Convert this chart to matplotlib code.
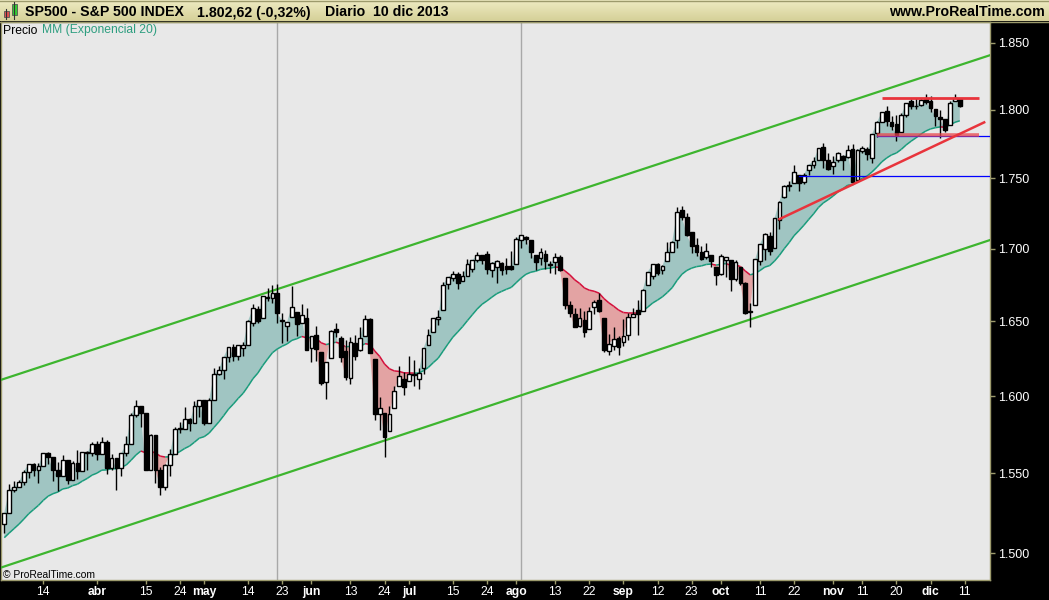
import numpy as np
import pandas as pd
import matplotlib
matplotlib.use("Agg")
import matplotlib.pyplot as plt
from matplotlib.collections import LineCollection
from matplotlib.patches import Rectangle

plt.rcParams['font.family'] = ['Liberation Sans', 'DejaVu Sans']

W, H = 1049, 600

# ---------------- data ----------------
holidays = ['2013-02-18', '2013-03-29', '2013-05-27', '2013-07-04', '2013-09-02', '2013-11-28', '2013-12-25']
start_date = '2013-03-04'

opens = [
    1518.20, 1525.20, 1539.79, 1541.46, 1544.26, 1551.15, 1556.22, 1552.48, 1554.52, 1563.21, 1560.70, 1552.10, 1548.34, 1558.71, 1545.90, 1556.89, 1551.69, 1563.75, 1562.86,
    1569.18, 1562.17, 1570.25, 1553.69, 1559.98, 1553.26, 1563.11, 1568.61, 1587.73, 1593.30, 1588.84, 1552.01, 1574.57, 1552.03, 1541.61, 1555.25, 1562.50, 1578.78, 1578.78, 1585.16, 1582.34, 1593.58,
    1597.55, 1582.77, 1597.60, 1614.40, 1617.55, 1625.95, 1632.69, 1626.69, 1632.10, 1633.75, 1649.13, 1658.07, 1652.45, 1665.71, 1666.20, 1669.39, 1650.34, 1646.67, 1652.63, 1656.57, 1649.14, 1652.13,
    1631.71, 1640.73, 1629.05, 1609.29, 1625.27, 1644.67, 1638.64, 1629.94, 1612.15, 1635.52, 1630.64, 1639.77, 1651.83, 1624.62, 1588.62, 1588.77, 1577.52, 1592.27, 1606.44, 1611.12,
    1609.78, 1614.29, 1611.48, 1618.65, 1634.20, 1642.89, 1651.56, 1657.41, 1675.26, 1679.59, 1682.70, 1677.91, 1681.05, 1686.15, 1692.09, 1695.53, 1696.06, 1685.21, 1687.31, 1690.32, 1687.92, 1687.76,
    1689.42, 1706.10, 1708.01, 1705.79, 1695.30, 1693.35, 1696.10, 1688.37, 1690.65, 1693.88, 1679.61, 1661.22, 1655.25, 1646.81, 1650.66, 1645.03, 1659.92, 1664.29, 1652.54, 1630.25, 1633.50, 1638.89,
    1635.95, 1640.72, 1653.28, 1657.44, 1656.85, 1675.11, 1681.04, 1689.21, 1685.04, 1691.70, 1697.73, 1705.74, 1727.34, 1722.44, 1711.44, 1702.60, 1698.02, 1694.05, 1695.52, 1687.26,
    1682.41, 1691.90, 1692.35, 1678.79, 1687.15, 1676.22, 1656.99, 1660.88, 1691.09, 1699.86, 1709.17, 1700.49, 1720.17, 1736.72, 1745.20, 1746.48, 1752.27, 1747.48, 1756.01, 1759.42, 1762.93, 1772.27, 1763.24,
    1758.70, 1763.40, 1765.67, 1765.00, 1770.74, 1748.37, 1769.96, 1771.08, 1764.37, 1782.75, 1790.66, 1798.82, 1790.79, 1789.59, 1783.52, 1796.19, 1806.33, 1802.87, 1803.48, 1808.01,
    1806.55, 1800.10, 1794.46, 1792.82, 1788.36, 1806.21, 1807.51]

highs = [
    1525.27, 1543.47, 1545.25, 1545.78, 1552.48, 1556.27, 1556.77, 1556.39, 1563.32, 1563.62, 1560.70, 1557.25, 1561.56, 1558.71, 1557.74, 1564.91, 1563.95, 1564.07, 1570.28,
    1570.57, 1573.66, 1571.47, 1562.60, 1559.98, 1563.07, 1573.89, 1589.07, 1597.35, 1593.30, 1588.84, 1575.35, 1574.57, 1554.38, 1555.89, 1565.55, 1579.58, 1583.00, 1592.64, 1585.78, 1596.65, 1597.57,
    1597.55, 1598.60, 1618.46, 1619.77, 1626.03, 1632.78, 1635.01, 1633.70, 1636.00, 1651.10, 1661.49, 1660.51, 1667.47, 1672.84, 1674.93, 1675.20, 1655.35, 1649.78, 1674.21, 1656.57, 1661.91, 1658.99,
    1640.42, 1646.53, 1629.31, 1622.56, 1644.40, 1648.69, 1640.13, 1637.71, 1639.25, 1640.80, 1646.50, 1654.19, 1652.45, 1624.62, 1599.19, 1588.77, 1593.79, 1606.83, 1620.07, 1615.94,
    1626.61, 1624.26, 1618.97, 1632.07, 1644.68, 1652.48, 1657.92, 1676.63, 1680.19, 1684.51, 1683.73, 1684.75, 1693.12, 1692.09, 1697.61, 1695.53, 1698.38, 1690.94, 1691.85, 1690.92, 1693.19, 1698.43,
    1707.85, 1709.67, 1709.24, 1705.79, 1695.30, 1700.18, 1699.42, 1691.49, 1696.81, 1695.52, 1679.61, 1663.60, 1659.18, 1658.92, 1656.99, 1659.55, 1664.85, 1669.51, 1652.54, 1641.18, 1646.41, 1640.08,
    1651.35, 1655.72, 1659.17, 1664.83, 1672.40, 1684.09, 1689.13, 1689.97, 1688.73, 1704.95, 1705.52, 1729.44, 1729.86, 1725.23, 1711.44, 1707.63, 1701.71, 1703.85, 1695.52, 1687.26,
    1696.55, 1693.87, 1692.35, 1691.94, 1687.15, 1676.79, 1662.47, 1692.56, 1703.44, 1711.03, 1711.57, 1721.76, 1733.45, 1745.31, 1747.79, 1759.33, 1752.27, 1753.94, 1759.82, 1764.99, 1772.09, 1775.22, 1768.53,
    1765.67, 1768.78, 1767.03, 1773.74, 1774.54, 1770.78, 1773.44, 1772.28, 1782.00, 1791.53, 1798.22, 1802.33, 1795.51, 1795.73, 1797.16, 1804.84, 1808.10, 1808.42, 1808.27, 1811.50,
    1810.02, 1800.10, 1799.80, 1792.82, 1806.04, 1811.52, 1808.37]

lows = [
    1512.29, 1525.20, 1538.11, 1541.46, 1542.94, 1547.36, 1548.24, 1544.00, 1554.52, 1555.74, 1545.13, 1538.57, 1548.34, 1543.55, 1545.90, 1546.22, 1551.69, 1551.90, 1561.08,
    1558.47, 1562.17, 1549.80, 1552.52, 1539.50, 1548.63, 1560.92, 1568.61, 1586.17, 1579.97, 1552.28, 1552.01, 1543.69, 1536.03, 1539.40, 1548.19, 1562.50, 1575.80, 1578.78, 1577.56, 1582.34, 1586.50,
    1581.28, 1582.77, 1597.60, 1614.21, 1611.10, 1622.70, 1623.09, 1623.71, 1626.74, 1633.75, 1646.68, 1648.60, 1652.45, 1663.52, 1662.67, 1648.86, 1635.53, 1636.88, 1652.63, 1640.05, 1648.61, 1630.74,
    1622.72, 1623.62, 1607.09, 1598.23, 1625.27, 1639.26, 1622.92, 1610.92, 1608.07, 1623.96, 1630.34, 1639.77, 1628.91, 1584.32, 1577.70, 1560.33, 1577.09, 1592.27, 1606.44, 1601.06,
    1609.78, 1606.77, 1604.57, 1614.71, 1634.20, 1642.89, 1647.66, 1657.41, 1672.33, 1677.89, 1671.84, 1677.91, 1681.05, 1684.08, 1690.67, 1689.00, 1682.57, 1680.07, 1676.03, 1681.86, 1682.42, 1684.94,
    1689.42, 1700.68, 1703.55, 1693.29, 1684.91, 1688.38, 1686.02, 1683.35, 1682.62, 1684.83, 1658.59, 1652.61, 1645.84, 1646.08, 1639.43, 1645.03, 1654.81, 1656.02, 1629.05, 1627.47, 1630.88, 1627.47,
    1633.41, 1637.41, 1653.07, 1640.62, 1656.85, 1675.11, 1678.70, 1681.96, 1682.22, 1691.70, 1697.73, 1700.35, 1720.20, 1708.89, 1697.10, 1694.90, 1691.88, 1693.11, 1687.11, 1674.99,
    1682.07, 1680.34, 1670.36, 1677.33, 1674.70, 1655.03, 1646.47, 1660.88, 1688.52, 1692.13, 1695.93, 1700.49, 1714.12, 1735.74, 1740.67, 1746.48, 1740.50, 1745.50, 1752.45, 1757.67, 1762.93, 1757.24, 1755.72,
    1752.70, 1761.56, 1755.76, 1764.40, 1746.20, 1747.63, 1767.85, 1762.98, 1760.64, 1780.22, 1790.66, 1788.00, 1784.72, 1777.23, 1783.52, 1794.70, 1800.58, 1800.77, 1802.77, 1803.98,
    1798.60, 1787.85, 1779.09, 1783.38, 1788.36, 1806.21, 1801.75]

closes = [
    1525.20, 1539.79, 1541.46, 1544.26, 1551.18, 1556.22, 1552.48, 1554.52, 1563.23, 1560.70, 1552.10, 1548.34, 1558.71, 1545.80, 1556.89, 1551.69, 1563.77, 1562.85, 1569.19,
    1562.17, 1570.25, 1553.69, 1559.98, 1553.28, 1563.07, 1568.61, 1587.73, 1593.37, 1588.85, 1552.36, 1574.57, 1552.01, 1541.61, 1555.25, 1562.50, 1578.78, 1578.79, 1585.16, 1582.24, 1593.61, 1597.57,
    1582.70, 1597.59, 1614.42, 1617.50, 1625.96, 1632.69, 1626.67, 1633.70, 1633.77, 1650.34, 1658.78, 1650.47, 1667.47, 1666.29, 1669.16, 1655.35, 1650.51, 1649.60, 1660.06, 1648.36, 1654.41, 1630.74,
    1640.42, 1631.38, 1608.90, 1622.56, 1643.38, 1642.81, 1626.13, 1612.52, 1636.36, 1626.73, 1639.04, 1651.81, 1628.93, 1588.19, 1592.43, 1573.09, 1588.03, 1603.26, 1613.20, 1606.28,
    1614.96, 1614.08, 1615.41, 1631.89, 1640.46, 1652.32, 1652.62, 1675.02, 1680.19, 1682.50, 1676.26, 1680.91, 1689.37, 1692.09, 1695.53, 1692.39, 1685.94, 1690.25, 1691.65, 1685.33, 1685.96, 1685.73,
    1706.87, 1709.67, 1707.14, 1697.37, 1690.91, 1697.48, 1691.42, 1689.47, 1694.16, 1685.39, 1661.32, 1655.83, 1646.06, 1652.35, 1642.80, 1656.96, 1663.50, 1656.78, 1630.48, 1634.96, 1638.17, 1632.97,
    1639.77, 1653.08, 1655.08, 1655.17, 1671.71, 1683.99, 1689.13, 1683.42, 1687.99, 1697.60, 1704.76, 1725.52, 1722.34, 1709.91, 1701.84, 1697.42, 1692.77, 1698.67, 1691.75, 1681.55,
    1695.00, 1693.87, 1678.66, 1690.50, 1676.12, 1655.45, 1656.40, 1692.56, 1703.20, 1710.14, 1698.06, 1721.54, 1733.15, 1744.50, 1744.66, 1754.67, 1746.38, 1752.07, 1759.77, 1762.11, 1771.95, 1763.31, 1756.54,
    1761.64, 1767.93, 1762.97, 1770.49, 1747.15, 1770.61, 1771.89, 1767.69, 1782.00, 1790.62, 1798.18, 1791.53, 1787.87, 1781.37, 1795.85, 1804.76, 1802.48, 1802.75, 1807.23, 1805.81,
    1800.90, 1795.15, 1792.81, 1785.03, 1805.09, 1808.37, 1802.62]

ema_seed = 1508.0   # EMA(20) value on the session before the first candle
ema_period = 20

tick_dates = ['2013-03-14', '2013-04-01', '2013-04-15', '2013-04-24', '2013-05-01', '2013-05-14',
              '2013-05-23', '2013-06-03', '2013-06-13', '2013-06-24', '2013-07-01', '2013-07-15',
              '2013-07-24', '2013-08-01', '2013-08-13', '2013-08-22', '2013-09-03', '2013-09-12',
              '2013-09-23', '2013-10-01', '2013-10-11', '2013-10-22', '2013-11-01', '2013-11-11',
              '2013-11-20', '2013-12-02', '2013-12-11']
tick_labels = ['14', 'abr', '15', '24', 'may', '14', '23', 'jun', '13', '24', 'jul', '15', '24',
               'ago', '13', '22', 'sep', '12', '23', 'oct', '11', '22', 'nov', '11', '20', 'dic', '11']
month_labels = ['abr', 'may', 'jun', 'jul', 'ago', 'sep', 'oct', 'nov', 'dic']

price_ticks = [1500, 1550, 1600, 1650, 1700, 1750, 1800, 1850]
price_labels = ['1.500', '1.550', '1.600', '1.650', '1.700', '1.750', '1.800', '1.850']

vline_dates = ['2013-05-22', '2013-08-02']

# drawn objects: (date, price) end points
channel_upper = [('2013-02-28', 1609.4), ('2013-12-20', 1842.9)]
channel_lower = [('2013-02-28', 1489.9), ('2013-12-20', 1708.1)]
red_trend = [('2013-10-17', 1720.8), ('2013-12-17', 1790.6)]
red_top = [('2013-11-15', 1808.9), ('2013-12-16', 1808.9)]
red_low = [('2013-11-14', 1781.3), ('2013-12-16', 1781.3)]
blue_1 = [('2013-10-23', 1751.5), ('2013-12-31', 1751.5)]
blue_2 = [('2013-11-14', 1780.4), ('2013-12-31', 1780.4)]

# ---------------- helpers ----------------
all_days = pd.bdate_range('2013-02-01', '2013-12-31')
all_days = all_days[~all_days.isin(pd.to_datetime(holidays))]
origin = int(np.where(all_days == pd.Timestamp(start_date))[0][0])

def idx(d):
    return int(np.where(all_days == pd.Timestamp(d))[0][0]) - origin

o = np.array(opens); h = np.array(highs); l = np.array(lows); c = np.array(closes)
n = len(c)
x = np.arange(n)

ema = np.empty(n)
alpha = 2.0 / (ema_period + 1)
prev = ema_seed
for i in range(n):
    prev = prev + alpha * (c[i] - prev)
    ema[i] = prev

# ---------------- figure ----------------
fig = plt.figure(figsize=(W / 100, H / 100), dpi=100, facecolor='black')

plot_top, plot_bot, plot_left, plot_right = 22, 580, 1, 990
ax = fig.add_axes([plot_left / W, 1 - plot_bot / H, (plot_right - plot_left) / W, (plot_bot - plot_top) / H])
ax.set_facecolor('#E8E8E8')
ax.set_yscale('log')

px_per_bar = 4.875
x_first_px = 43.3 - 8 * px_per_bar   # pixel position of first candle
ax.set_xlim((plot_left - x_first_px) / px_per_bar, (plot_right - x_first_px) / px_per_bar)
ax.set_ylim(1483.6, 1866.0)

teal_fill = '#A0C5C2'
pink_fill = '#E3A3A3'
teal_line = '#1A9C7C'
red_line = '#D4103C'

ax.fill_between(x, c, ema, where=c >= ema, interpolate=True, color=teal_fill, lw=0, zorder=1)
ax.fill_between(x, c, ema, where=c < ema, interpolate=True, color=pink_fill, lw=0, zorder=1)

pts = np.column_stack([x, ema])
segs = np.stack([pts[:-1], pts[1:]], axis=1)
cols = [red_line if c[i + 1] < ema[i + 1] else teal_line for i in range(n - 1)]
ax.add_collection(LineCollection(segs, colors=cols, linewidths=1.1, zorder=2))

for d in vline_dates:
    ax.axvline(idx(d), color='#A8A8A8', lw=1, zorder=0.5)

def seg(points, **kw):
    xs = [idx(p[0]) for p in points]
    ys = [p[1] for p in points]
    ax.plot(xs, ys, **kw)

seg(channel_upper, color='#3DB52E', lw=1.6, zorder=3)
seg(channel_lower, color='#3DB52E', lw=1.6, zorder=3)

# candles
ax.vlines(x, l, h, color='black', lw=1.0, zorder=4)
up = c >= o
body_lo = np.minimum(o, c)
body_h = np.maximum(np.abs(c - o), 0.3)
ax.bar(x[up], body_h[up], bottom=body_lo[up], width=0.78, color='white', edgecolor='black', lw=1.0, zorder=5)
ax.bar(x[~up], body_h[~up], bottom=body_lo[~up], width=0.78, color='black', edgecolor='black', lw=1.0, zorder=5)

seg(blue_1, color='#0000FF', lw=0.9, zorder=6)
seg(blue_2, color='#0000FF', lw=0.9, zorder=6)
seg(red_low, color='#E8464C', lw=2.6, alpha=0.75, zorder=6, solid_capstyle='butt')
seg(red_top, color='#E8343C', lw=2.0, zorder=6, solid_capstyle='butt')
seg(red_trend, color='#E8343C', lw=1.8, zorder=6)

# axes styling
border = '#9C9A6C'
for s in ax.spines.values():
    s.set_color(border)
    s.set_linewidth(1)
ax.yaxis.tick_right()
ax.set_yticks(price_ticks)
ax.set_yticklabels(price_labels)
ax.yaxis.set_minor_locator(matplotlib.ticker.NullLocator())
ax.tick_params(axis='y', which='major', direction='out', length=3.5, width=1, color=border,
               labelcolor='white', labelsize=9, pad=2)
ax.set_xticks([idx(d) for d in tick_dates])
ax.set_xticklabels(tick_labels)
ax.tick_params(axis='x', which='major', direction='out', length=3, width=1, color=border,
               labelcolor='white', labelsize=8.7, pad=1)
for t in ax.get_xticklabels():
    if t.get_text() in month_labels:
        t.set_fontweight('bold')

# header band
hax = fig.add_axes([0, 1 - 21 / H, 1, 21 / H])
grad = np.linspace(0, 1, 50).reshape(-1, 1)
top_col = np.array([0xEE, 0xEB, 0xC2]) / 255
bot_col = np.array([0xD5, 0xD0, 0x98]) / 255
img = top_col[None, None, :] * (1 - grad[:, :, None]) + bot_col[None, None, :] * grad[:, :, None]
hax.imshow(img, aspect='auto', extent=[0, 1, 0, 1])
hax.set_xlim(0, 1); hax.set_ylim(0, 1)
hax.set_axis_off()
fig.add_artist(plt.Line2D([0, 1], [1 - 21.5 / H, 1 - 21.5 / H], color=border, lw=1))
fig.add_artist(plt.Line2D([0, 1], [1 - 0.5 / H, 1 - 0.5 / H], color=border, lw=1))

def ftxt(xp, yp, s, **kw):
    fig.text(xp / W, 1 - yp / H, s, **kw)

# header icon
def icon_candle(x0, y0, y1, wy0, wy1, col):
    fig.add_artist(plt.Line2D([(x0 + 2.5) / W] * 2, [1 - wy0 / H, 1 - wy1 / H], color='#333333', lw=0.8))
    fig.add_artist(Rectangle((x0 / W, 1 - y1 / H), 5 / W, (y1 - y0) / H, facecolor=col,
                             edgecolor='#555555', lw=0.6))
icon_candle(3.5, 11, 17, 9, 19, '#E05050')
icon_candle(11.5, 4, 15, 2, 19, '#33CC33')

ftxt(25, 16.5, 'SP500 - S&P 500 INDEX', fontsize=10.2, fontweight='bold', color='black', va='baseline')
ftxt(197, 16.5, '1.802,62 (-0,32%)', fontsize=10.2, fontweight='bold', color='black', va='baseline')
ftxt(325, 16.5, 'Diario  10 dic 2013', fontsize=10.2, fontweight='bold', color='black', va='baseline')
ftxt(1045, 16.5, 'www.ProRealTime.com', fontsize=10.2, fontweight='bold', color='black', va='baseline', ha='right')

ftxt(3, 33.5, 'Precio', fontsize=8.7, color='black', va='baseline')
ftxt(41.5, 33.5, 'MM (Exponencial 20)', fontsize=8.7, color='#2E9E80', va='baseline')
ftxt(3, 577.5, '\u00a9 ProRealTime.com', fontsize=7.4, color='black', va='baseline')

fig.savefig('out.png', dpi=100, facecolor='black')
